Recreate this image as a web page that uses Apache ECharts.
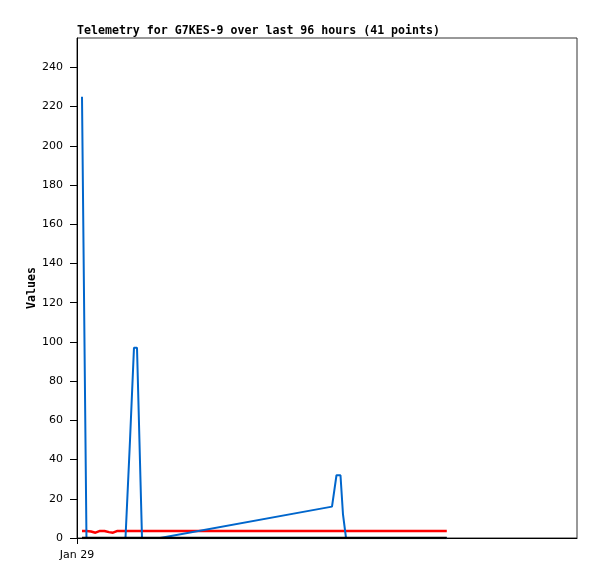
<!DOCTYPE html>
<html>
<head>
<meta charset="utf-8">
<script src="https://cdn.jsdelivr.net/npm/echarts@6/dist/echarts.min.js"></script>
<style>
  html, body { margin: 0; padding: 0; background: #fff; }
  #chart { width: 597px; height: 579px; }
</style>
</head>
<body>
<div id="chart"></div>
<script>
// hours since Jan 29 00:00
const hours = [0.96, 1.82, 2.69, 3.55, 4.42, 5.28, 6.14, 6.91, 7.78, 8.54,
  9.31, 10.18, 10.94, 11.52, 12.48, 15.94, 48.96, 49.82, 50.59, 51.07,
  51.65, 52.6, 53.6, 54.5, 55.5, 56.5, 57.4, 58.4, 59.4, 60.3,
  61.3, 62.3, 63.2, 64.2, 65.2, 66.1, 67.1, 68.1, 69.1, 70.0, 71.0]

const blueValues = [225, 0, 0, 0, 0, 0, 0, 0, 0, 0,
  0, 50, 97, 97, 0, 0, 16, 32, 32, 12,
  0, 0, 0, 0, 0, 0, 0, 0, 0, 0,
  0, 0, 0, 0, 0, 0, 0, 0, 0, 0, 0]

const redValues = [3.6, 3.6, 3.3, 2.7, 3.6, 3.6, 3.0, 2.7, 3.6, 3.6,
  3.6, 3.6, 3.6, 3.6, 3.6, 3.6, 3.6, 3.6, 3.6, 3.6,
  3.6, 3.6, 3.6, 3.6, 3.6, 3.6, 3.6, 3.6, 3.6, 3.6,
  3.6, 3.6, 3.6, 3.6, 3.6, 3.6, 3.6, 3.6, 3.6, 3.6, 3.6]

const blackValues = [0, 0, 0, 0, 0, 0, 0, 0, 0, 0,
  0, 0, 0, 0, 0, 0, 0, 0, 0, 0,
  0, 0, 0, 0, 0, 0, 0, 0, 0, 0,
  0, 0, 0, 0, 0, 0, 0, 0, 0, 0, 0]

const xTickValues = [0]
const xTickLabels = ['Jan 29']
const yTickValues = [0, 20, 40, 60, 80, 100, 120, 140, 160, 180, 200, 220, 240]

const pairs = vals => hours.map((h, i) => [h, vals[i]])

const chart = echarts.init(document.getElementById('chart'))

const monoFont = '"DejaVu Sans Mono", monospace'
const labelFont = '"DejaVu Sans", sans-serif'

chart.setOption({
  animation: false,
  backgroundColor: '#fff',
  title: {
    text: 'Telemetry for G7KES-9 over last 96 hours (41 points)',
    left: 77,
    top: 25,
    padding: 0,
    textStyle: {
      fontFamily: monoFont,
      fontSize: 11.6,
      fontWeight: 'bold',
      color: '#000'
    }
  },
  grid: {
    left: 77,
    right: 20,
    top: 38,
    bottom: 41,
    show: true,
    borderColor: '#333',
    borderWidth: 1
  },
  xAxis: {
    type: 'value',
    min: 0,
    max: 96,
    axisLine: { lineStyle: { color: '#000', width: 1 } },
    axisTick: { customValues: xTickValues, length: 6, lineStyle: { color: '#000' } },
    axisLabel: {
      customValues: xTickValues,
      formatter: v => xTickLabels[xTickValues.indexOf(v)] || '',
      margin: 12,
      fontFamily: labelFont,
      fontSize: 11,
      color: '#000'
    },
    splitLine: { show: false }
  },
  yAxis: {
    type: 'value',
    min: 0,
    max: 255,
    name: 'Values',
    nameLocation: 'middle',
    nameGap: 39,
    nameMoveOverlap: false,
    nameTextStyle: {
      fontFamily: monoFont,
      fontSize: 11.6,
      fontWeight: 'bold',
      color: '#000'
    },
    axisLine: { show: true, lineStyle: { color: '#000', width: 1 } },
    axisTick: { show: true, customValues: yTickValues, length: 7, lineStyle: { color: '#000' } },
    axisLabel: {
      customValues: yTickValues,
      margin: 14,
      fontFamily: labelFont,
      fontSize: 11,
      color: '#000'
    },
    splitLine: { show: false }
  },
  series: [
    {
      name: 'red',
      type: 'line',
      data: pairs(redValues),
      showSymbol: false,
      z: 2,
      lineStyle: { color: '#ff0000', width: 2.5 }
    },
    {
      name: 'blue',
      type: 'line',
      data: pairs(blueValues),
      showSymbol: false,
      z: 3,
      lineStyle: { color: '#0066cc', width: 2 }
    },
    {
      name: 'black',
      type: 'line',
      data: pairs(blackValues),
      showSymbol: false,
      z: 4,
      lineStyle: { color: '#000', width: 2.5 }
    }
  ]
})
</script>
</body>
</html>
